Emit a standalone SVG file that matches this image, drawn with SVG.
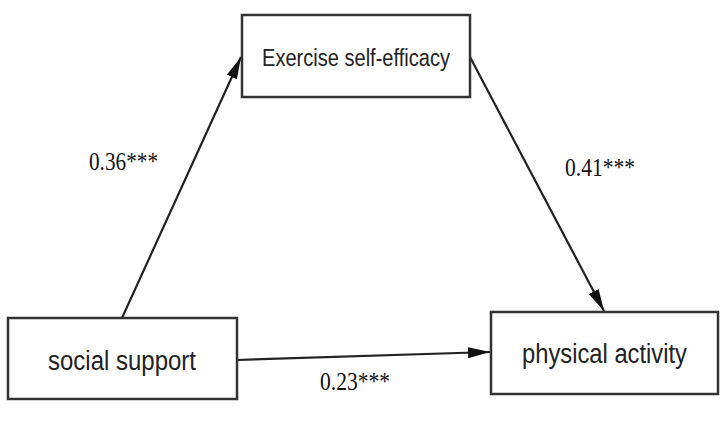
<svg xmlns="http://www.w3.org/2000/svg" width="726" height="424" viewBox="0 0 726 424">
<style>
.box{fill:#fff;stroke:#333;stroke-width:2.5}
.lbl{font-family:"Liberation Sans",Arial,sans-serif;fill:#222}
.num{font-family:"Liberation Serif","Times New Roman",serif;fill:#111;font-size:26px}
.edge{stroke:#222;stroke-width:2.2;fill:none}
</style>
<defs>
<marker id="ahb" viewBox="0 0 20 10" refX="20" refY="5" markerWidth="22" markerHeight="12" markerUnits="userSpaceOnUse" orient="auto">
<path d="M0,0 L20,5 L0,10 Z" fill="#111"/>
</marker>
</defs>
<rect width="726" height="424" fill="#fff"/>
<g id="connectors">
<line class="edge" x1="122" y1="318" x2="241" y2="57" marker-end="url(#ahb)"/>
<line class="edge" x1="470" y1="57" x2="604" y2="311" marker-end="url(#ahb)"/>
<line class="edge" x1="237" y1="360" x2="490" y2="352" marker-end="url(#ahb)"/>
</g>
<g id="node-ese">
<rect class="box" x="242" y="15" width="228" height="82"/>
<text class="lbl" x="262" y="66" font-size="23" textLength="188" lengthAdjust="spacingAndGlyphs">Exercise self-efficacy</text>
</g>
<g id="node-ss">
<rect class="box" x="8" y="318" width="229" height="81"/>
<text class="lbl" x="48" y="370" font-size="27" textLength="148" lengthAdjust="spacingAndGlyphs">social support</text>
</g>
<g id="node-pa">
<rect class="box" x="491" y="312" width="227" height="82"/>
<text class="lbl" x="522" y="363" font-size="27" textLength="165" lengthAdjust="spacingAndGlyphs">physical activity</text>
</g>
<g id="labels">
<text class="num" x="89" y="170" textLength="69" lengthAdjust="spacingAndGlyphs">0.36***</text>
<text class="num" x="565" y="176" textLength="70" lengthAdjust="spacingAndGlyphs">0.41***</text>
<text class="num" x="320" y="390" textLength="70" lengthAdjust="spacingAndGlyphs">0.23***</text>
</g>
</svg>
